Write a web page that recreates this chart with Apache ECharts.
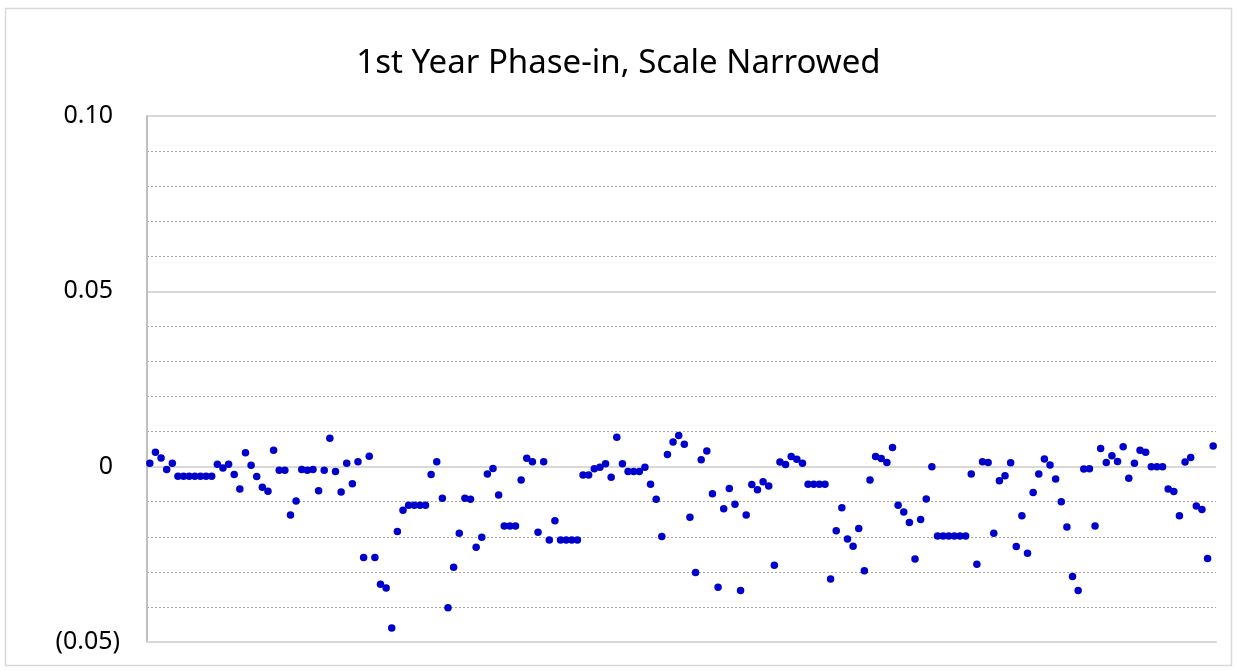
<!DOCTYPE html>
<html>
<head>
<meta charset="utf-8">
<script src="https://cdn.jsdelivr.net/npm/echarts@6/dist/echarts.min.js"></script>
<style>
  html, body { margin: 0; padding: 0; background: #fff; }
  #chart { width: 1237px; height: 671px; }
</style>
</head>
<body>
<div id="chart"></div>
<script>
/* 1st Year Phase-in, Scale Narrowed —— 190 个点的散点图 */

const title = '1st Year Phase-in, Scale Narrowed';

// 各期差值
const values = [
  0.001, 0.0041, 0.0025, -0.0008, 0.001,
  -0.0027, -0.0027, -0.0027, -0.0027, -0.0027, -0.0027, -0.0027,
  0.0007, -0.0004, 0.0007, -0.0022, -0.0064, 0.004, 0.0004, -0.0028,
  -0.0059, -0.007, 0.0047, -0.001, -0.001, -0.0138, -0.0098, -0.0008,
  -0.001, -0.0008, -0.0069, -0.001, 0.0081, -0.0014, -0.0072, 0.001,
  -0.0049, 0.0014, -0.0259, 0.003, -0.0259, -0.0335, -0.0346, -0.046,
  -0.0185, -0.0124, -0.011, -0.011, -0.011, -0.011,
  -0.0022, 0.0014, -0.009, -0.0402, -0.0287, -0.019, -0.009, -0.0093,
  -0.023, -0.0201, -0.0021, -0.0005, -0.0081, -0.0169, -0.0169, -0.0169,
  -0.0038, 0.0024, 0.0014, -0.0187, 0.0014, -0.0209, -0.0154,
  -0.0209, -0.0209, -0.0209, -0.0209,
  -0.0024, -0.0024, -0.0006, -0.0002, 0.0008, -0.003, 0.0084, 0.0008,
  -0.0014, -0.0014, -0.0014, -0.0002, -0.005, -0.0093, -0.0199,
  0.0035, 0.007, 0.0089, 0.0064, -0.0144, -0.0302, 0.002, 0.0045,
  -0.0077, -0.0344, -0.012, -0.0062, -0.0107, -0.0353, -0.0138, -0.0051,
  -0.0066, -0.0043, -0.0055, -0.0281, 0.0013, 0.0006, 0.0029, 0.0021,
  0.001, -0.005, -0.005, -0.005, -0.005,
  -0.032, -0.0183, -0.0117, -0.0206, -0.0227, -0.0176, -0.0297, -0.0038,
  0.0029, 0.0023, 0.0012, 0.0055, -0.011, -0.0129, -0.0159, -0.0263,
  -0.0151, -0.0092, 0,
  -0.0198, -0.0198, -0.0198, -0.0198, -0.0198, -0.0198,
  -0.0021, -0.0278, 0.0014, 0.0012, -0.019, -0.004, -0.0026, 0.0011,
  -0.0228, -0.014, -0.0247, -0.0074, -0.0021, 0.0022, 0.0005, -0.0035,
  -0.01, -0.0172, -0.0313, -0.0353, -0.0007, -0.0006, -0.0169, 0.0052,
  0.0012, 0.0031, 0.0015, 0.0057, -0.0033, 0.001, 0.0047, 0.0041,
  0, 0, 0, -0.0064, -0.0071, -0.014, 0.0013, 0.0026, -0.0112, -0.0122,
  -0.0262, 0.0059
];

const categories = values.map((_, i) => String(i + 1));

// 会计格式：负数加括号，正数右侧留出括号位
function fmtTick(v) {
  if (Math.abs(v) < 1e-9) return '{p|0}';
  if (v < 0) return '(' + Math.abs(v).toFixed(2) + ')';
  return '{p|' + v.toFixed(2) + '}';
}

const chart = echarts.init(document.getElementById('chart'), null, { renderer: 'canvas' });

chart.setOption({
  animation: false,
  title: {
    text: title, left: 'center', top: 42,
    textStyle: { fontFamily: 'Noto Sans', fontSize: 33, fontWeight: 'normal', color: '#000' },
  },
  graphic: [{
    type: 'rect', shape: { x: 5.5, y: 8.5, width: 1226, height: 657 },
    style: { fill: 'none', stroke: '#d9d9d9', lineWidth: 1.5 }, silent: true,
  }],
  grid: { left: 147, right: 21, top: 116, bottom: 29 },
  xAxis: {
    type: 'category', data: categories, boundaryGap: true,
    axisLine: { show: true, onZero: false, lineStyle: { color: '#d9d9d9', width: 2 } },
    axisTick: { show: false }, axisLabel: { show: false }, splitLine: { show: false },
  },
  yAxis: {
    type: 'value', min: -0.05, max: 0.1, interval: 0.05,
    axisLine: { show: true, lineStyle: { color: '#bfbfbf', width: 2 } },
    axisTick: { show: false },
    axisLabel: {
      margin: 27, color: '#000', fontFamily: 'Noto Sans', fontSize: 25,
      formatter: fmtTick,
      rich: { p: { fontFamily: 'Noto Sans', fontSize: 25, color: '#000', padding: [0, 7, 0, 0] } },
    },
    splitLine: { show: true, lineStyle: { color: '#d9d9d9', width: 2 } },
    minorTick: { show: false, splitNumber: 5 },
    minorSplitLine: { show: true, lineStyle: { color: '#a6a6a6', width: 1, type: [2, 2] } },
  },
  series: [{
    type: 'scatter', data: values,
    symbol: 'circle', symbolSize: 7.5,
    itemStyle: { color: '#0000cc', opacity: 1 },
  }],
});
</script>
</body>
</html>
